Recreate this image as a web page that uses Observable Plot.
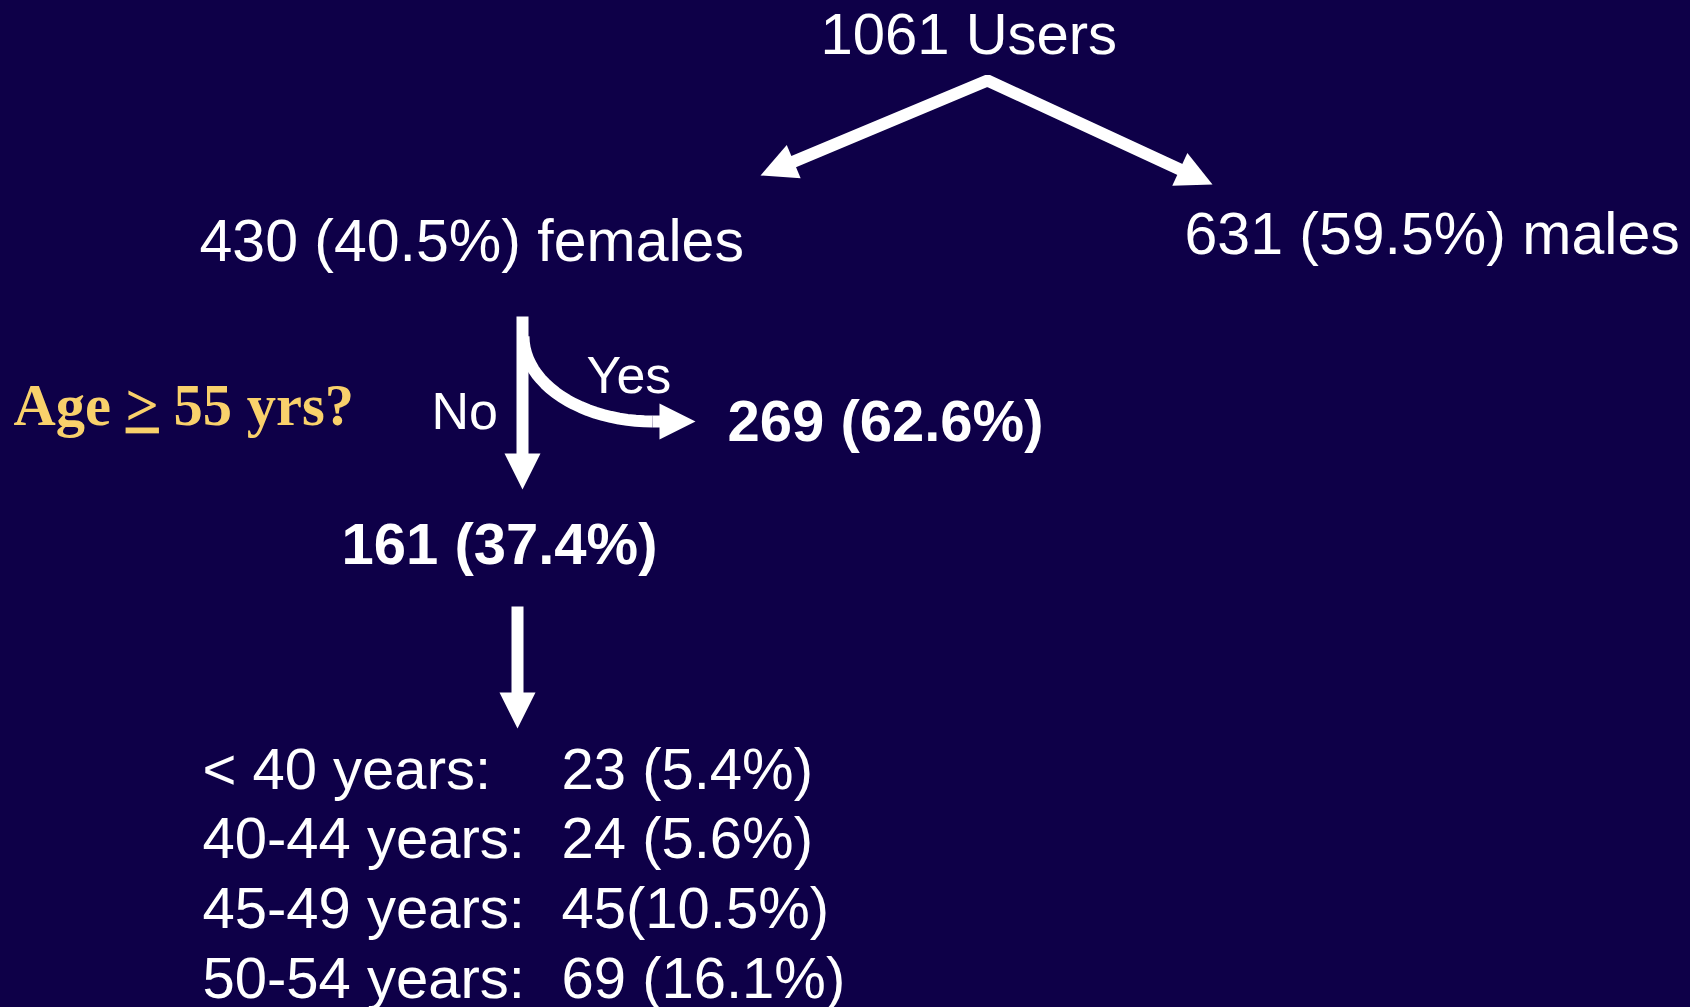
<!DOCTYPE html>
<html>
<head>
<meta charset="utf-8">
<script src="https://cdn.jsdelivr.net/npm/d3@7"></script>
<script src="https://cdn.jsdelivr.net/npm/@observablehq/plot@0.6"></script>
<style>
  html, body { margin: 0; padding: 0; background: #0E0048; overflow: hidden; }
  #chart svg { display: block; }
</style>
</head>
<body>
<div id="chart"></div>
<script>
// ---------- data ----------
const totalUsers = 1061;
const sexGroups = ["females", "males"];
const sexCounts = [430, 631];
const sexPercents = [40.5, 59.5];
const ageQuestion = "Age > 55 yrs?";
const ageAnswers = ["No", "Yes"];
const ageCounts = [161, 269];
const agePercents = [37.4, 62.6];
const ageBands = ["< 40 years:", "40-44 years:", "45-49 years:", "50-54 years:"];
const bandCounts = [23, 24, 45, 69];
const bandPercents = [5.4, 5.6, 10.5, 16.1];
const bandGaps = [" ", " ", "", " "];

// ---------- layout (pixel positions, separate from data) ----------
const W = 1690, H = 1007;
const BG = "#0E0048", GOLD = "#F9D16B";
const SANS = "'Liberation Sans', Arial, Helvetica, sans-serif";
const SERIF = "'Liberation Serif', 'Times New Roman', serif";
const pos = {
  total: [820, 53],
  sex: [[199, 260], [1184, 253]],
  question: [13, 424],
  answers: [[431, 428], [586, 392]],
  answerCounts: [[341, 563], [727, 440]],
  bandLabelX: 202,
  bandValueX: 561,
  bandY: [788, 857, 927, 997]
};
const apex = [987, 80];
const splitTips = [[760, 175], [1212, 184]];
const noArrow = [[522, 316], [522, 489]];
// the "Yes" bend is a quarter ellipse leaving the vertical shaft
const yesBend = {cx: 652, cy: 336, rx: 129, ry: 85, steps: 24};
const yesTip = [695, 421];
const downArrow = [[517, 606], [517, 728]];
const SHAFT = 12, HEAD_L = 36, HEAD_W = 36;

// ---------- derived tables ----------
const pct = v => `${v.toFixed(1)}%`;
const mainTexts = [
  {x: pos.total[0], y: pos.total[1], t: `${totalUsers} Users`, s: 58},
  ...sexGroups.map((g, i) => ({x: pos.sex[i][0], y: pos.sex[i][1], t: `${sexCounts[i]} (${pct(sexPercents[i])}) ${g}`, s: 59}))
];
const listTexts = [
  ...ageBands.map((b, i) => ({x: pos.bandLabelX, y: pos.bandY[i], t: b})),
  ...ageBands.map((b, i) => ({x: pos.bandValueX, y: pos.bandY[i], t: `${bandCounts[i]}${bandGaps[i]}(${pct(bandPercents[i])})`}))
];
const answerTexts = ageAnswers.map((a, i) => ({x: pos.answers[i][0], y: pos.answers[i][1], t: a}));
const countTexts = ageAnswers.map((a, i) => ({x: pos.answerCounts[i][0], y: pos.answerCounts[i][1], t: `${ageCounts[i]} (${pct(agePercents[i])})`}));

// arrow geometry helpers
function headFor(id, from, tip) {
  const dx = tip[0] - from[0], dy = tip[1] - from[1];
  const len = Math.hypot(dx, dy), ux = dx / len, uy = dy / len;
  const bx = tip[0] - ux * HEAD_L, by = tip[1] - uy * HEAD_L;
  const px = -uy * HEAD_W / 2, py = ux * HEAD_W / 2;
  return [
    {id, x: tip[0], y: tip[1]},
    {id, x: bx + px, y: by + py},
    {id, x: bx - px, y: by - py}
  ];
}
function shaftEnd(from, tip) {
  const dx = tip[0] - from[0], dy = tip[1] - from[1];
  const len = Math.hypot(dx, dy);
  const k = (len - HEAD_L + 2) / len;
  return [from[0] + dx * k, from[1] + dy * k];
}
const curvedShaft = d3.range(yesBend.steps + 1).map(k => {
  const a = Math.PI - (k / yesBend.steps) * Math.PI / 2; // from left point (180°) to bottom (90°)
  return {id: "yes", x: yesBend.cx + yesBend.rx * Math.cos(a), y: yesBend.cy + yesBend.ry * Math.sin(a)};
});
const bendEnd = [yesBend.cx, yesBend.cy + yesBend.ry];
const leftEnd = shaftEnd(apex, splitTips[0]);
const rightEnd = shaftEnd(apex, splitTips[1]);
const straightShafts = [
  ...[leftEnd, apex, rightEnd].map(p => ({id: "split", x: p[0], y: p[1]})),
  ...[noArrow[0], shaftEnd(noArrow[0], noArrow[1])].map(p => ({id: "no", x: p[0], y: p[1]})),
  ...[downArrow[0], shaftEnd(downArrow[0], downArrow[1])].map(p => ({id: "down", x: p[0], y: p[1]})),
  ...[bendEnd, shaftEnd(bendEnd, yesTip)].map(p => ({id: "yesTail", x: p[0], y: p[1]}))
];
const heads = [
  ...headFor("l", apex, splitTips[0]),
  ...headFor("r", apex, splitTips[1]),
  ...headFor("no", noArrow[0], noArrow[1]),
  ...headFor("down", downArrow[0], downArrow[1]),
  ...headFor("yes", bendEnd, yesTip)
];

const chart = Plot.plot({
  width: W,
  height: H,
  margin: 0,
  x: {domain: [0, W], range: [0, W], axis: null},
  y: {domain: [0, H], range: [0, H], axis: null},
  style: {background: BG, color: "white", overflow: "visible"},
  marks: [
    Plot.line(straightShafts, {x: "x", y: "y", z: "id", stroke: "white", strokeWidth: SHAFT, strokeLinejoin: "miter", strokeLinecap: "butt", curve: "linear"}),
    Plot.line(curvedShaft, {x: "x", y: "y", z: "id", stroke: "white", strokeWidth: SHAFT, strokeLinecap: "butt", curve: "linear"}),
    Plot.line(heads, {x: "x", y: "y", z: "id", fill: "white", stroke: "none", curve: "linear-closed"}),
    Plot.text(mainTexts, {x: "x", y: "y", text: "t", fontSize: "s", textAnchor: "start", lineAnchor: "bottom", fontFamily: SANS, fill: "white"}),
    Plot.text(listTexts, {x: "x", y: "y", text: "t", textAnchor: "start", lineAnchor: "bottom", fontSize: 58, fontFamily: SANS, fill: "white"}),
    Plot.text(answerTexts, {x: "x", y: "y", text: "t", textAnchor: "start", lineAnchor: "bottom", fontSize: 52, fontFamily: SANS, fill: "white"}),
    Plot.text(countTexts, {x: "x", y: "y", text: "t", textAnchor: "start", lineAnchor: "bottom", fontSize: 58, fontWeight: "bold", fontFamily: SANS, fill: "white"}),
    Plot.text([{x: pos.question[0], y: pos.question[1], t: ageQuestion}], {x: "x", y: "y", text: "t", textAnchor: "start", lineAnchor: "bottom", fontSize: 58.5, fontWeight: "bold", fontFamily: SERIF, fill: GOLD})
  ]
});
document.getElementById("chart").appendChild(chart);

// underline the ">" in the question, as in the original slide
const q = [...chart.querySelectorAll("text")].find(t => t.textContent === ageQuestion);
if (q) {
  const parts = ageQuestion.split(">");
  q.textContent = "";
  q.setAttribute("style", "white-space:pre");
  const ns = "http://www.w3.org/2000/svg";
  const add = (s, u) => {
    const ts = document.createElementNS(ns, "tspan");
    ts.textContent = s;
    if (u) ts.setAttribute("style", "text-decoration:underline;text-decoration-thickness:6px;text-underline-offset:10px");
    q.appendChild(ts);
  };
  add(parts[0], false);
  add(">", true);
  add(parts[1], false);
}
</script>
</body>
</html>
